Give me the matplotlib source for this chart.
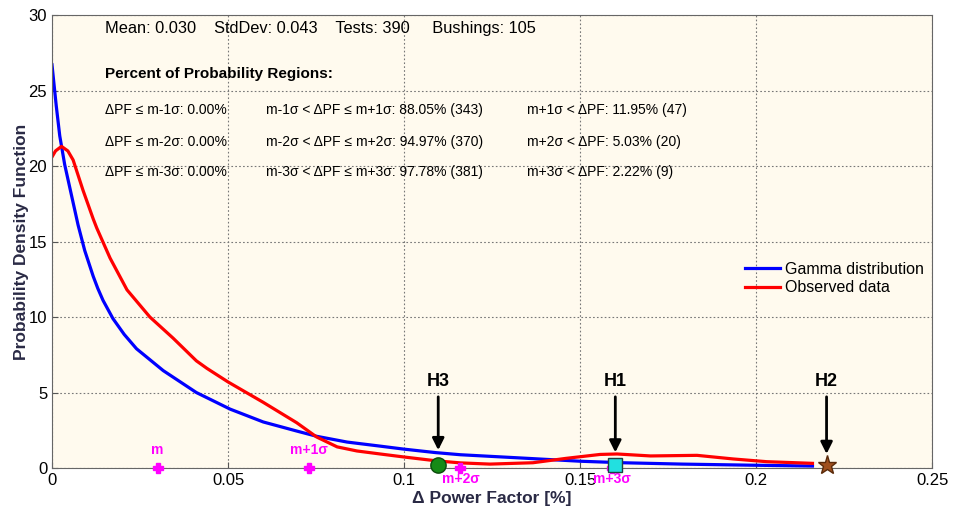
import matplotlib
matplotlib.use('Agg')
import matplotlib.pyplot as plt

plt.rcParams['font.family'] = ['Liberation Sans', 'DejaVu Sans']

# Gamma distribution curve
gamma_x = [0, 0.0012, 0.0022, 0.0036, 0.0055, 0.0074, 0.0093, 0.0117, 0.013, 0.0145,
           0.0173, 0.0205, 0.024, 0.0316, 0.041, 0.0506, 0.06, 0.0695, 0.0752,
           0.0838, 0.0932, 0.1, 0.109, 0.116, 0.132, 0.15, 0.162, 0.179,
           0.198, 0.216]
gamma_y = [26.7, 24.0, 22.0, 20.1, 18.1, 16.1, 14.4, 12.7, 11.9, 11.1,
           9.9, 8.85, 7.9, 6.45, 5.0, 3.9, 3.05, 2.45, 2.1,
           1.72, 1.45, 1.25, 1.02, 0.88, 0.68, 0.45, 0.35, 0.26,
           0.19, 0.13]

# Observed data curve
obs_x = [0, 0.001, 0.0027, 0.0045, 0.006, 0.0088, 0.0117, 0.0127, 0.0165,
         0.0213, 0.0278, 0.0344, 0.041, 0.044, 0.05, 0.06, 0.0695, 0.0752,
         0.081, 0.0866, 0.0932, 0.1, 0.109, 0.116, 0.1244, 0.1366, 0.146,
         0.1557, 0.1605, 0.17, 0.1832, 0.1935, 0.203, 0.216]
obs_y = [20.6, 21.0, 21.3, 21.0, 20.4, 18.4, 16.5, 15.9, 13.9,
         11.8, 10.0, 8.6, 7.1, 6.6, 5.7, 4.35, 3.0, 2.05,
         1.4, 1.13, 0.93, 0.73, 0.48, 0.34, 0.26, 0.35, 0.64,
         0.9, 0.93, 0.8, 0.84, 0.6, 0.42, 0.31]

# mean / sigma markers
sigma_x = [0.030, 0.073, 0.116, 0.159]
sigma_labels = ['m', 'm+1\u03c3', 'm+2\u03c3', 'm+3\u03c3']

# bushings
h_names = ['H3', 'H1', 'H2']
h_x = [0.1097, 0.160, 0.220]
h_y = [0.2, 0.2, 0.2]
h_tip = [1.0, 0.85, 0.75]

header = 'Mean: 0.030    StdDev: 0.043    Tests: 390     Bushings: 105'
rows = [
    ['\u0394PF \u2264 m-1\u03c3: 0.00%', 'm-1\u03c3 < \u0394PF \u2264 m+1\u03c3: 88.05% (343)', 'm+1\u03c3 < \u0394PF: 11.95% (47)'],
    ['\u0394PF \u2264 m-2\u03c3: 0.00%', 'm-2\u03c3 < \u0394PF \u2264 m+2\u03c3: 94.97% (370)', 'm+2\u03c3 < \u0394PF: 5.03% (20)'],
    ['\u0394PF \u2264 m-3\u03c3: 0.00%', 'm-3\u03c3 < \u0394PF \u2264 m+3\u03c3: 97.78% (381)', 'm+3\u03c3 < \u0394PF: 2.22% (9)'],
]

fig = plt.figure(figsize=(9.63, 5.11), dpi=100)
ax = fig.add_axes([0.054, 0.0841, 0.914, 0.8865])
ax.set_facecolor('#fffaee')

ax.plot(gamma_x, gamma_y, color='#0000ff', lw=2.3, label='Gamma distribution',
        solid_joinstyle='round')
ax.plot(obs_x, obs_y, color='#ff0000', lw=2.3, label='Observed data',
        solid_joinstyle='round')

# sigma markers and labels
for i, (sx, lab) in enumerate(zip(sigma_x, sigma_labels)):
    ax.plot(sx, 0, marker='P', color='#ff00ff', ms=7, mec='#ff00ff', clip_on=False, zorder=5)
    if i < 2:
        ax.text(sx, 0.75, lab, color='#ff00ff', fontsize=10, fontweight='bold',
                ha='center', va='bottom')
    else:
        ax.text(sx, -0.25, lab, color='#ff00ff', fontsize=10, fontweight='bold',
                ha='center', va='top')

# bushing markers
ax.plot(h_x[0], h_y[0], marker='o', ms=11, color='#168a16', mec='#0a4a0a', zorder=6, clip_on=False)
ax.plot(h_x[1], h_y[1], marker='s', ms=10, color='#22e0e0', mec='#204040', zorder=6, clip_on=False)
ax.plot(h_x[2], h_y[2], marker='*', ms=14, color='#a0501e', mec='#5a2a0a', zorder=6, clip_on=False)

for name, hx, tip in zip(h_names, h_x, h_tip):
    ax.annotate('', xy=(hx, tip), xytext=(hx, 4.9),
                arrowprops=dict(arrowstyle='-|>,head_width=0.35,head_length=0.7',
                                color='black', lw=2))
    ax.text(hx, 5.2, name, fontsize=13, fontweight='bold', ha='center', va='bottom')

# statistics text
ax.text(0.0151, 29.1, header, fontsize=11.8, va='center')
ax.text(0.0151, 26.1, 'Percent of Probability Regions:', fontsize=11, fontweight='bold', va='center')
row_y = [23.7, 21.6, 19.6]
col_x = [0.0151, 0.0608, 0.1349]
for ry, row in zip(row_y, rows):
    for cx, txt in zip(col_x, row):
        ax.text(cx, ry, txt, fontsize=10, va='center')

ax.set_xlim(0, 0.25)
ax.set_ylim(0, 30)
ax.set_xticks([0, 0.05, 0.1, 0.15, 0.2, 0.25])
ax.set_xticklabels(['0', '0.05', '0.1', '0.15', '0.2', '0.25'])
ax.set_yticks([0, 5, 10, 15, 20, 25, 30])
ax.tick_params(direction='in', labelsize=12, length=4, color='#555555')
ax.grid(True, linestyle=(0, (1.5, 2)), color='#777777', lw=0.8)
for s in ax.spines.values():
    s.set_color('#666666')

ax.set_xlabel('\u0394 Power Factor [%]', fontsize=12.5, fontweight='bold', color='#2a2a45', labelpad=2)
ax.set_ylabel('Probability Density Function', fontsize=12.5, fontweight='bold', color='#2a2a45', labelpad=0)

ax.legend(loc='upper left', bbox_to_anchor=(0.78, 0.47), frameon=False, fontsize=11.5,
          handlelength=2.2, handletextpad=0.3, labelspacing=0.25, borderaxespad=0)

fig.savefig('out.png', dpi=100)
